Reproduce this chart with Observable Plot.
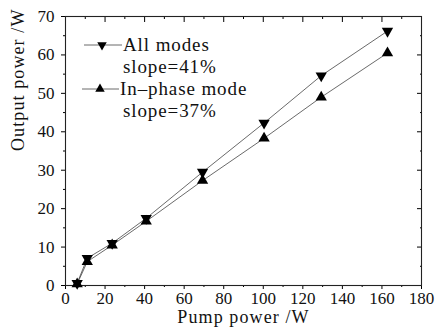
<!DOCTYPE html>
<html>
<head>
<meta charset="utf-8">
<script src="https://cdn.jsdelivr.net/npm/d3@7"></script>
<script src="https://cdn.jsdelivr.net/npm/@observablehq/plot@0.6"></script>
<style>
  html, body { margin: 0; padding: 0; background: #fff; font-family: 'Liberation Serif'; }
  #chart { position: relative; width: 441px; height: 335px; font-family: 'Liberation Serif'; }
  #chart svg text { font-family: 'Liberation Serif' !important; }
  #legend { position: absolute; left: 123px; top: 34px; font-family: 'Liberation Serif'; font-size: 19px;
            line-height: 22px; letter-spacing: 0.9px; color: #111; white-space: nowrap; }
  #legend .shift { margin-left: -3px; }
</style>
</head>
<body>
<div id="chart"><div id="legend"><div id="lg0">All modes</div><div id="ls0">slope=41%</div><div id="lg1" class="shift">In–phase mode</div><div id="ls1">slope=37%</div></div></div>
<script>
const pumpPower = [5.9, 11, 23.6, 40.8, 69.3, 100.4, 129.3, 162.8];
const allModes = [0.6, 7.1, 11.0, 17.5, 29.5, 42.3, 54.6, 66.2];
const inPhase = [0.4, 6.2, 10.5, 16.7, 27.3, 38.3, 49.0, 60.5];
const xTicks = [0, 20, 40, 60, 80, 100, 120, 140, 160, 180];
const yTicks = [0, 10, 20, 30, 40, 50, 60, 70];
const xMinor = [10, 30, 50, 70, 90, 110, 130, 150, 170];
const yMinor = [5, 15, 25, 35, 45, 55, 65];
const seriesNames = ["All modes", "In\u2013phase mode"];
const slopeLabels = ["slope=41%", "slope=37%"];
const xLabel = "Pump power /W";
const yLabel = "Output power /W";

const allData = pumpPower.map((p, i) => ({x: p, y: allModes[i]}));
const inData = pumpPower.map((p, i) => ({x: p, y: inPhase[i]}));

const FONT = "Liberation Serif";
const lineStroke = "#444";

const chart = Plot.plot({
  width: 441,
  height: 335,
  marginLeft: 65,
  marginRight: 20,
  marginTop: 16,
  marginBottom: 50,
  style: {fontFamily: FONT, fontSize: "17px"},
  x: {domain: [0, 180]},
  y: {domain: [0, 70]},
  marks: [
    Plot.axisX({anchor: "bottom", ticks: xTicks, tickSize: 4, tickPadding: 2, label: null, fontFamily: FONT, fontSize: 17, tickFormat: d => String(d)}),
    Plot.axisX({anchor: "bottom", ticks: xMinor, tickSize: 2, tickFormat: () => "", label: null}),
    Plot.axisX({anchor: "top", ticks: xTicks, tickSize: -5, tickFormat: () => "", label: null}),
    Plot.axisX({anchor: "top", ticks: xMinor, tickSize: -2, tickFormat: () => "", label: null}),
    Plot.axisY({anchor: "left", ticks: yTicks, tickSize: 4, tickPadding: 7, label: null, fontFamily: FONT, fontSize: 17, tickFormat: d => String(d)}),
    Plot.axisY({anchor: "left", ticks: yMinor, tickSize: 2, tickFormat: () => "", label: null}),
    Plot.axisY({anchor: "right", ticks: yTicks, tickSize: -5, tickFormat: () => "", label: null}),
    Plot.axisY({anchor: "right", ticks: yMinor, tickSize: -2, tickFormat: () => "", label: null}),
    Plot.frame({stroke: "#222", strokeWidth: 1.1}),
    Plot.line(allData, {x: "x", y: "y", stroke: lineStroke, strokeWidth: 0.8}),
    Plot.line(inData, {x: "x", y: "y", stroke: lineStroke, strokeWidth: 0.8}),
    Plot.dot(allData, {x: "x", y: "y", symbol: "triangle", r: 4.2, fill: "#000", stroke: "none", rotate: 180}),
    Plot.dot(inData, {x: "x", y: "y", symbol: "triangle", r: 4.2, fill: "#000", stroke: "none"}),
    Plot.text([xLabel], {frameAnchor: "bottom", dy: 37, fill: "#111", fontFamily: FONT, fontSize: 18}),
    Plot.text([yLabel], {frameAnchor: "left", dx: -47, rotate: -90, fill: "#111", fontFamily: FONT, fontSize: 18})
  ]
});

document.getElementById("chart").prepend(chart);

// legend texts from the arrays
document.getElementById("lg0").textContent = seriesNames[0];
document.getElementById("lg1").textContent = seriesNames[1];
document.getElementById("ls0").textContent = slopeLabels[0];
document.getElementById("ls1").textContent = slopeLabels[1];

const svg = d3.select(chart);
svg.selectAll("text").attr("font-family", FONT).style("font-family", "'Liberation Serif'")
  .style("font-size", "17px").style("fill", "#111");
svg.selectAll("text").filter(function() { return this.textContent === xLabel || this.textContent === yLabel; })
  .style("font-size", "18px").style("letter-spacing", "1.1px");

// legend symbols
const leg = svg.append("g").attr("class", "legend-symbols");
const rows = [
  {y: 45, x1: 84, x2: 122, mx: 102, rot: 180},
  {y: 89, x1: 82, x2: 119, mx: 100, rot: 0}
];
const sym = d3.symbol(d3.symbolTriangle, Math.PI * 4.2 * 4.2 * 0.7);
rows.forEach(r => {
  leg.append("line").attr("x1", r.x1).attr("x2", r.x2).attr("y1", r.y).attr("y2", r.y)
    .attr("stroke", lineStroke).attr("stroke-width", 0.8);
  leg.append("path").attr("d", sym()).attr("fill", "#000")
    .attr("transform", `translate(${r.mx},${r.y}) rotate(${r.rot})`);
});
</script>
</body>
</html>
